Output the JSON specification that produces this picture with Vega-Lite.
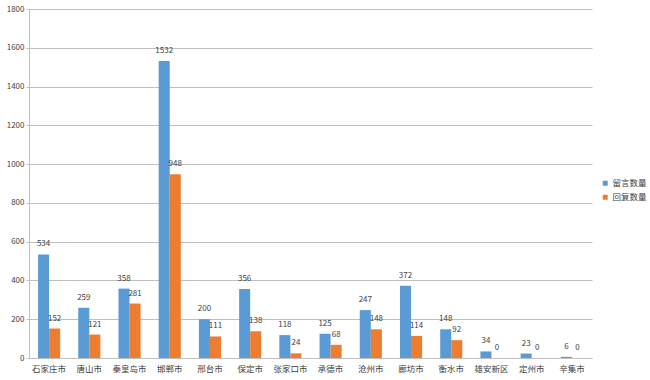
{
  "$schema": "https://vega.github.io/schema/vega-lite/v6.json",
  "width": 563,
  "height": 349,
  "autosize": {"type": "none"},
  "padding": {"left": 29, "top": 9, "right": 58, "bottom": 22},
  "background": "white",
  "config": {
    "font": "Noto Sans CJK SC",
    "view": {"stroke": null}
  },
  "data": {
    "values": [
      {"city": "石家庄市", "series": "留言数量", "value": 534},
      {"city": "石家庄市", "series": "回复数量", "value": 152},
      {"city": "唐山市", "series": "留言数量", "value": 259},
      {"city": "唐山市", "series": "回复数量", "value": 121},
      {"city": "秦皇岛市", "series": "留言数量", "value": 358},
      {"city": "秦皇岛市", "series": "回复数量", "value": 281},
      {"city": "邯郸市", "series": "留言数量", "value": 1532},
      {"city": "邯郸市", "series": "回复数量", "value": 948},
      {"city": "邢台市", "series": "留言数量", "value": 200},
      {"city": "邢台市", "series": "回复数量", "value": 111},
      {"city": "保定市", "series": "留言数量", "value": 356},
      {"city": "保定市", "series": "回复数量", "value": 138},
      {"city": "张家口市", "series": "留言数量", "value": 118},
      {"city": "张家口市", "series": "回复数量", "value": 24},
      {"city": "承德市", "series": "留言数量", "value": 125},
      {"city": "承德市", "series": "回复数量", "value": 68},
      {"city": "沧州市", "series": "留言数量", "value": 247},
      {"city": "沧州市", "series": "回复数量", "value": 148},
      {"city": "廊坊市", "series": "留言数量", "value": 372},
      {"city": "廊坊市", "series": "回复数量", "value": 114},
      {"city": "衡水市", "series": "留言数量", "value": 148},
      {"city": "衡水市", "series": "回复数量", "value": 92},
      {"city": "雄安新区", "series": "留言数量", "value": 34},
      {"city": "雄安新区", "series": "回复数量", "value": 0},
      {"city": "定州市", "series": "留言数量", "value": 23},
      {"city": "定州市", "series": "回复数量", "value": 0},
      {"city": "辛集市", "series": "留言数量", "value": 6},
      {"city": "辛集市", "series": "回复数量", "value": 0}
    ]
  },
  "encoding": {
    "x": {
      "field": "city", "type": "nominal", "sort": null,
      "scale": {"paddingInner": 0.45, "paddingOuter": 0.225},
      "axis": {"title": null, "labelAngle": 0, "labelFontSize": 8.5, "labelColor": "#404040", "ticks": false, "domainColor": "#bfbfbf", "labelPadding": 6}
    },
    "xOffset": {"field": "series", "type": "nominal", "sort": ["留言数量", "回复数量"]},
    "y": {
      "field": "value", "type": "quantitative",
      "scale": {"domain": [0, 1800], "nice": false},
      "axis": {"title": null, "format": "d", "values": [0, 200, 400, 600, 800, 1000, 1200, 1400, 1600, 1800], "labelFontSize": 8, "labelColor": "#404040", "gridColor": "#bfbfbf", "domainColor": "#bfbfbf", "tickColor": "#bfbfbf", "tickSize": 3, "labelPadding": 2}
    }
  },
  "layer": [
    {
      "mark": {"type": "bar"},
      "encoding": {
        "color": {
          "field": "series", "type": "nominal",
          "scale": {"domain": ["留言数量", "回复数量"], "range": ["#5b9bd5", "#ed7d31"]},
          "legend": {"title": null, "orient": "none", "legendX": 572, "legendY": 170, "symbolType": "square", "symbolSize": 25, "labelFontSize": 8.5, "labelColor": "#404040", "rowPadding": 5, "symbolStrokeWidth": 0, "labelOffset": 3}
        }
      }
    },
    {
      "mark": {"type": "text", "baseline": "bottom", "dy": -6, "fontSize": 8, "color": "#404040"},
      "encoding": {"text": {"field": "value", "type": "quantitative"}}
    }
  ]
}
